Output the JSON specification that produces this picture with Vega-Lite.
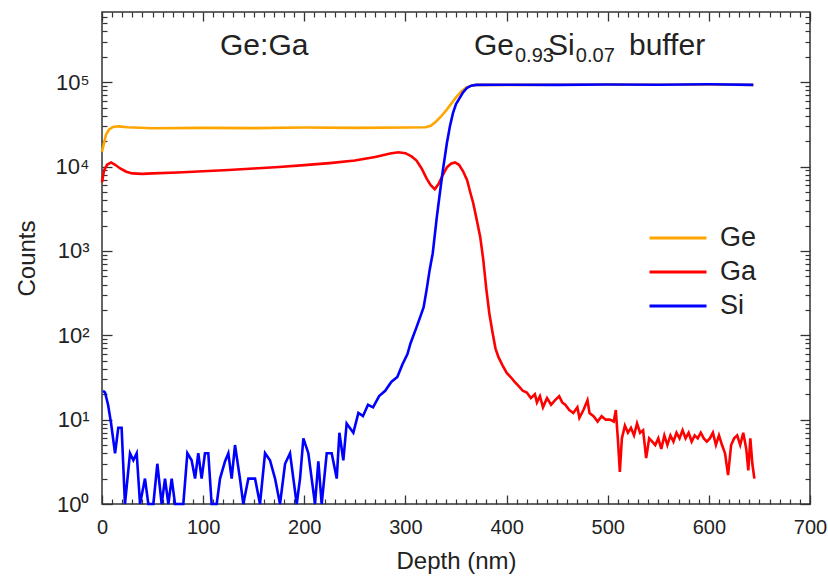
{
  "$schema": "https://vega.github.io/schema/vega-lite/v6.json",
  "width": 708,
  "height": 492,
  "autosize": {"type": "none"},
  "padding": {"left": 102, "top": 12, "right": 18, "bottom": 81},
  "background": "white",
  "config": {
    "font": "Liberation Sans",
    "view": {"stroke": "#333333", "strokeWidth": 1.5},
    "axis": {
      "grid": false,
      "domain": false,
      "labelColor": "#222222",
      "titleColor": "#222222",
      "titleFontWeight": "normal"
    }
  },
  "datasets": {
    "profiles": [
      {"element": "Ge", "depth": 0, "counts": 15000},
      {"element": "Ge", "depth": 2, "counts": 19000},
      {"element": "Ge", "depth": 4, "counts": 24000},
      {"element": "Ge", "depth": 7, "counts": 27500},
      {"element": "Ge", "depth": 11, "counts": 29500},
      {"element": "Ge", "depth": 16, "counts": 30000},
      {"element": "Ge", "depth": 25, "counts": 29200},
      {"element": "Ge", "depth": 50, "counts": 28500},
      {"element": "Ge", "depth": 100, "counts": 28800},
      {"element": "Ge", "depth": 150, "counts": 28600},
      {"element": "Ge", "depth": 200, "counts": 29000},
      {"element": "Ge", "depth": 250, "counts": 28800},
      {"element": "Ge", "depth": 300, "counts": 29000},
      {"element": "Ge", "depth": 320, "counts": 29200},
      {"element": "Ge", "depth": 325, "counts": 30500},
      {"element": "Ge", "depth": 330, "counts": 34000},
      {"element": "Ge", "depth": 335, "counts": 39000},
      {"element": "Ge", "depth": 340, "counts": 46000},
      {"element": "Ge", "depth": 345, "counts": 55000},
      {"element": "Ge", "depth": 350, "counts": 66000},
      {"element": "Ge", "depth": 355, "counts": 77000},
      {"element": "Ge", "depth": 360, "counts": 86000},
      {"element": "Ge", "depth": 365, "counts": 91000},
      {"element": "Ge", "depth": 370, "counts": 93000},
      {"element": "Ge", "depth": 400, "counts": 93000},
      {"element": "Ge", "depth": 450, "counts": 93500},
      {"element": "Ge", "depth": 500, "counts": 94000},
      {"element": "Ge", "depth": 550, "counts": 93500},
      {"element": "Ge", "depth": 600, "counts": 94000},
      {"element": "Ge", "depth": 644, "counts": 93000},

      {"element": "Ga", "depth": 0, "counts": 6500},
      {"element": "Ga", "depth": 2, "counts": 9000},
      {"element": "Ga", "depth": 5, "counts": 10500},
      {"element": "Ga", "depth": 9, "counts": 11200},
      {"element": "Ga", "depth": 13, "counts": 10500},
      {"element": "Ga", "depth": 18, "counts": 9500},
      {"element": "Ga", "depth": 24, "counts": 8700},
      {"element": "Ga", "depth": 30, "counts": 8300},
      {"element": "Ga", "depth": 40, "counts": 8200},
      {"element": "Ga", "depth": 50, "counts": 8300},
      {"element": "Ga", "depth": 75, "counts": 8500},
      {"element": "Ga", "depth": 100, "counts": 8800},
      {"element": "Ga", "depth": 125, "counts": 9100},
      {"element": "Ga", "depth": 150, "counts": 9500},
      {"element": "Ga", "depth": 175, "counts": 9900},
      {"element": "Ga", "depth": 200, "counts": 10400},
      {"element": "Ga", "depth": 225, "counts": 11000},
      {"element": "Ga", "depth": 250, "counts": 11800},
      {"element": "Ga", "depth": 270, "counts": 13000},
      {"element": "Ga", "depth": 285, "counts": 14300},
      {"element": "Ga", "depth": 293, "counts": 14800},
      {"element": "Ga", "depth": 300, "counts": 14400},
      {"element": "Ga", "depth": 306, "counts": 13200},
      {"element": "Ga", "depth": 311, "counts": 11800},
      {"element": "Ga", "depth": 316, "counts": 9500},
      {"element": "Ga", "depth": 321, "counts": 7200},
      {"element": "Ga", "depth": 325, "counts": 6000},
      {"element": "Ga", "depth": 329, "counts": 5400},
      {"element": "Ga", "depth": 333, "counts": 6300},
      {"element": "Ga", "depth": 337, "counts": 8000},
      {"element": "Ga", "depth": 341, "counts": 9800},
      {"element": "Ga", "depth": 345, "counts": 10800},
      {"element": "Ga", "depth": 349, "counts": 11200},
      {"element": "Ga", "depth": 353, "counts": 10500},
      {"element": "Ga", "depth": 357, "counts": 8800},
      {"element": "Ga", "depth": 361, "counts": 6900},
      {"element": "Ga", "depth": 364, "counts": 5000},
      {"element": "Ga", "depth": 367, "counts": 3700},
      {"element": "Ga", "depth": 370, "counts": 2500},
      {"element": "Ga", "depth": 374, "counts": 1450},
      {"element": "Ga", "depth": 377, "counts": 780},
      {"element": "Ga", "depth": 380, "counts": 350},
      {"element": "Ga", "depth": 383, "counts": 180},
      {"element": "Ga", "depth": 386, "counts": 110},
      {"element": "Ga", "depth": 389, "counts": 70},
      {"element": "Ga", "depth": 392, "counts": 55},
      {"element": "Ga", "depth": 396, "counts": 44},
      {"element": "Ga", "depth": 400, "counts": 36},
      {"element": "Ga", "depth": 404, "counts": 32},
      {"element": "Ga", "depth": 408, "counts": 28},
      {"element": "Ga", "depth": 412, "counts": 25},
      {"element": "Ga", "depth": 416, "counts": 22},
      {"element": "Ga", "depth": 420, "counts": 21},
      {"element": "Ga", "depth": 424, "counts": 18},
      {"element": "Ga", "depth": 428, "counts": 20},
      {"element": "Ga", "depth": 430, "counts": 16},
      {"element": "Ga", "depth": 433, "counts": 19},
      {"element": "Ga", "depth": 436, "counts": 14},
      {"element": "Ga", "depth": 440, "counts": 18},
      {"element": "Ga", "depth": 444, "counts": 15},
      {"element": "Ga", "depth": 448, "counts": 17},
      {"element": "Ga", "depth": 452, "counts": 19},
      {"element": "Ga", "depth": 455, "counts": 16},
      {"element": "Ga", "depth": 458, "counts": 15},
      {"element": "Ga", "depth": 462, "counts": 13},
      {"element": "Ga", "depth": 466, "counts": 12},
      {"element": "Ga", "depth": 470, "counts": 14},
      {"element": "Ga", "depth": 472, "counts": 10.5},
      {"element": "Ga", "depth": 476, "counts": 13},
      {"element": "Ga", "depth": 480, "counts": 17},
      {"element": "Ga", "depth": 482, "counts": 12},
      {"element": "Ga", "depth": 486, "counts": 11},
      {"element": "Ga", "depth": 490, "counts": 9.5},
      {"element": "Ga", "depth": 494, "counts": 11},
      {"element": "Ga", "depth": 498, "counts": 10},
      {"element": "Ga", "depth": 502, "counts": 10},
      {"element": "Ga", "depth": 506, "counts": 9.5},
      {"element": "Ga", "depth": 508, "counts": 13},
      {"element": "Ga", "depth": 510, "counts": 6},
      {"element": "Ga", "depth": 512, "counts": 2.4},
      {"element": "Ga", "depth": 514, "counts": 6},
      {"element": "Ga", "depth": 517, "counts": 8.5},
      {"element": "Ga", "depth": 520, "counts": 7},
      {"element": "Ga", "depth": 523, "counts": 8},
      {"element": "Ga", "depth": 526, "counts": 6.5},
      {"element": "Ga", "depth": 529, "counts": 9},
      {"element": "Ga", "depth": 532, "counts": 7},
      {"element": "Ga", "depth": 535, "counts": 7.5},
      {"element": "Ga", "depth": 538, "counts": 3.5},
      {"element": "Ga", "depth": 541, "counts": 6},
      {"element": "Ga", "depth": 544, "counts": 5.5},
      {"element": "Ga", "depth": 547, "counts": 5},
      {"element": "Ga", "depth": 550, "counts": 6},
      {"element": "Ga", "depth": 553, "counts": 4.5},
      {"element": "Ga", "depth": 556, "counts": 6.5},
      {"element": "Ga", "depth": 559, "counts": 5},
      {"element": "Ga", "depth": 562, "counts": 6.5},
      {"element": "Ga", "depth": 565, "counts": 5.5},
      {"element": "Ga", "depth": 568, "counts": 7},
      {"element": "Ga", "depth": 571, "counts": 6},
      {"element": "Ga", "depth": 574, "counts": 7.5},
      {"element": "Ga", "depth": 577, "counts": 6},
      {"element": "Ga", "depth": 580, "counts": 7},
      {"element": "Ga", "depth": 583, "counts": 5.5},
      {"element": "Ga", "depth": 586, "counts": 6.5},
      {"element": "Ga", "depth": 589, "counts": 6},
      {"element": "Ga", "depth": 592, "counts": 7},
      {"element": "Ga", "depth": 595, "counts": 6},
      {"element": "Ga", "depth": 598, "counts": 5.5},
      {"element": "Ga", "depth": 601, "counts": 6},
      {"element": "Ga", "depth": 604, "counts": 7},
      {"element": "Ga", "depth": 607, "counts": 5},
      {"element": "Ga", "depth": 610, "counts": 6.5},
      {"element": "Ga", "depth": 613, "counts": 5},
      {"element": "Ga", "depth": 616, "counts": 4},
      {"element": "Ga", "depth": 619, "counts": 2.2},
      {"element": "Ga", "depth": 622, "counts": 5},
      {"element": "Ga", "depth": 625, "counts": 6},
      {"element": "Ga", "depth": 628, "counts": 6.5},
      {"element": "Ga", "depth": 631, "counts": 5},
      {"element": "Ga", "depth": 634, "counts": 7},
      {"element": "Ga", "depth": 637, "counts": 4.5},
      {"element": "Ga", "depth": 639, "counts": 2.5},
      {"element": "Ga", "depth": 641, "counts": 6},
      {"element": "Ga", "depth": 643, "counts": 3},
      {"element": "Ga", "depth": 645, "counts": 2},

      {"element": "Si", "depth": 1, "counts": 22},
      {"element": "Si", "depth": 3, "counts": 21},
      {"element": "Si", "depth": 6, "counts": 15},
      {"element": "Si", "depth": 9, "counts": 9},
      {"element": "Si", "depth": 12.9, "counts": 4},
      {"element": "Si", "depth": 16.1, "counts": 8},
      {"element": "Si", "depth": 19.4, "counts": 8},
      {"element": "Si", "depth": 22.7, "counts": 1},
      {"element": "Si", "depth": 27.7, "counts": 4},
      {"element": "Si", "depth": 31, "counts": 3.3},
      {"element": "Si", "depth": 34.3, "counts": 4},
      {"element": "Si", "depth": 37.6, "counts": 1},
      {"element": "Si", "depth": 42.5, "counts": 2},
      {"element": "Si", "depth": 45.8, "counts": 1},
      {"element": "Si", "depth": 50.8, "counts": 1},
      {"element": "Si", "depth": 54.7, "counts": 3},
      {"element": "Si", "depth": 59, "counts": 1},
      {"element": "Si", "depth": 62.3, "counts": 2},
      {"element": "Si", "depth": 65.6, "counts": 1},
      {"element": "Si", "depth": 68.9, "counts": 2},
      {"element": "Si", "depth": 72.2, "counts": 1},
      {"element": "Si", "depth": 80.4, "counts": 1},
      {"element": "Si", "depth": 84.4, "counts": 4},
      {"element": "Si", "depth": 88.6, "counts": 3.3},
      {"element": "Si", "depth": 92, "counts": 2},
      {"element": "Si", "depth": 95.2, "counts": 4},
      {"element": "Si", "depth": 98.5, "counts": 2},
      {"element": "Si", "depth": 101.8, "counts": 4},
      {"element": "Si", "depth": 105.1, "counts": 4},
      {"element": "Si", "depth": 108.4, "counts": 1},
      {"element": "Si", "depth": 113.4, "counts": 1},
      {"element": "Si", "depth": 116.7, "counts": 2},
      {"element": "Si", "depth": 121.6, "counts": 3.2},
      {"element": "Si", "depth": 124.9, "counts": 4},
      {"element": "Si", "depth": 128.2, "counts": 2},
      {"element": "Si", "depth": 131.5, "counts": 5},
      {"element": "Si", "depth": 136.4, "counts": 2},
      {"element": "Si", "depth": 139.7, "counts": 1},
      {"element": "Si", "depth": 144.7, "counts": 2},
      {"element": "Si", "depth": 151.3, "counts": 2},
      {"element": "Si", "depth": 156.2, "counts": 1},
      {"element": "Si", "depth": 161.2, "counts": 4},
      {"element": "Si", "depth": 166.1, "counts": 3.3},
      {"element": "Si", "depth": 171.1, "counts": 2},
      {"element": "Si", "depth": 176, "counts": 1},
      {"element": "Si", "depth": 181, "counts": 3},
      {"element": "Si", "depth": 185.9, "counts": 4},
      {"element": "Si", "depth": 189.2, "counts": 2},
      {"element": "Si", "depth": 192.5, "counts": 1},
      {"element": "Si", "depth": 195.8, "counts": 2},
      {"element": "Si", "depth": 199.1, "counts": 6},
      {"element": "Si", "depth": 204, "counts": 4},
      {"element": "Si", "depth": 207.3, "counts": 2},
      {"element": "Si", "depth": 210.6, "counts": 1},
      {"element": "Si", "depth": 213.9, "counts": 3.2},
      {"element": "Si", "depth": 217.2, "counts": 1},
      {"element": "Si", "depth": 222.2, "counts": 4},
      {"element": "Si", "depth": 227.1, "counts": 4},
      {"element": "Si", "depth": 232.1, "counts": 2},
      {"element": "Si", "depth": 234.7, "counts": 7},
      {"element": "Si", "depth": 238.6, "counts": 3.3},
      {"element": "Si", "depth": 241.9, "counts": 9},
      {"element": "Si", "depth": 248.5, "counts": 7},
      {"element": "Si", "depth": 253.5, "counts": 12},
      {"element": "Si", "depth": 258, "counts": 11},
      {"element": "Si", "depth": 263, "counts": 15},
      {"element": "Si", "depth": 268, "counts": 14},
      {"element": "Si", "depth": 274, "counts": 19},
      {"element": "Si", "depth": 280, "counts": 22},
      {"element": "Si", "depth": 286, "counts": 28},
      {"element": "Si", "depth": 292, "counts": 32},
      {"element": "Si", "depth": 297, "counts": 45},
      {"element": "Si", "depth": 302, "counts": 60},
      {"element": "Si", "depth": 305, "counts": 80},
      {"element": "Si", "depth": 308, "counts": 100},
      {"element": "Si", "depth": 311, "counts": 125},
      {"element": "Si", "depth": 315, "counts": 170},
      {"element": "Si", "depth": 318, "counts": 215},
      {"element": "Si", "depth": 321, "counts": 350},
      {"element": "Si", "depth": 324, "counts": 600},
      {"element": "Si", "depth": 327, "counts": 940},
      {"element": "Si", "depth": 331, "counts": 2500},
      {"element": "Si", "depth": 334, "counts": 4800},
      {"element": "Si", "depth": 337, "counts": 9000},
      {"element": "Si", "depth": 341, "counts": 19000},
      {"element": "Si", "depth": 344, "counts": 30000},
      {"element": "Si", "depth": 347, "counts": 43000},
      {"element": "Si", "depth": 350, "counts": 55000},
      {"element": "Si", "depth": 354, "counts": 66000},
      {"element": "Si", "depth": 357, "counts": 76000},
      {"element": "Si", "depth": 361, "counts": 86000},
      {"element": "Si", "depth": 365, "counts": 91000},
      {"element": "Si", "depth": 370, "counts": 93000},
      {"element": "Si", "depth": 400, "counts": 93500},
      {"element": "Si", "depth": 450, "counts": 93000},
      {"element": "Si", "depth": 500, "counts": 94000},
      {"element": "Si", "depth": 550, "counts": 93500},
      {"element": "Si", "depth": 600, "counts": 94500},
      {"element": "Si", "depth": 644, "counts": 93000}
    ],
    "labels": [
      {"depth": 116.7, "counts": 210000, "text": "Ge:Ga"},
      {"depth": 367.8, "counts": 210000, "text": "Ge"},
      {"depth": 441, "counts": 210000, "text": "Si"},
      {"depth": 521, "counts": 210000, "text": "buffer"}
    ],
    "subscripts": [
      {"depth": 408.3, "counts": 210000, "text": "0.93"},
      {"depth": 468.5, "counts": 210000, "text": "0.07"}
    ]
  },
  "layer": [
    {
      "data": {"name": "profiles"},
      "mark": {"type": "line", "strokeWidth": 2.6},
      "encoding": {
        "x": {
          "field": "depth",
          "type": "quantitative",
          "scale": {"domain": [0, 700], "nice": false},
          "axis": {
            "orient": "bottom",
            "values": [0, 100, 200, 300, 400, 500, 600, 700],
            "ticks": true,
            "tickColor": "#333333",
            "tickWidth": 1.3,
            "offset": -9,
            "tickSize": 9,
            "labelPadding": 13,
            "labelFontSize": 20,
            "labelFlush": false,
            "title": "Depth (nm)",
            "titleFontSize": 24,
            "titlePadding": 12
          }
        },
        "y": {
          "field": "counts",
          "type": "quantitative",
          "scale": {"type": "log", "domain": [1, 680000], "nice": false},
          "axis": {
            "orient": "left",
            "values": [1, 10, 100, 1000, 10000, 100000],
            "labelExpr": "'10' + ['⁰','¹','²','³','⁴','⁵','⁶'][round(log(datum.value)/LN10)]",
            "ticks": true,
            "tickColor": "#333333",
            "tickWidth": 1.3,
            "offset": -10,
            "tickSize": 10,
            "labelPadding": 13,
            "labelFontSize": 22,
            "labelFlush": false,
            "labelOverlap": false,
            "title": "Counts",
            "titleFontSize": 24,
            "titlePadding": 16
          }
        },
        "color": {
          "field": "element",
          "type": "nominal",
          "sort": ["Ge", "Ga", "Si"],
          "scale": {"domain": ["Ge", "Ga", "Si"], "range": ["#FFA500", "#FF0000", "#0000FF"]},
          "legend": {
            "orient": "none",
            "legendX": 546,
            "legendY": 209,
            "title": null,
            "padding": 0,
            "symbolType": "stroke",
            "symbolSize": 3249,
            "symbolStrokeWidth": 3,
            "labelFontSize": 27,
            "labelOffset": 12,
            "labelColor": "#222222",
            "clipHeight": 34,
            "rowPadding": 0
          }
        }
      }
    },
    {
      "data": {"name": "labels"},
      "mark": {"type": "text", "fontSize": 30, "align": "left", "baseline": "alphabetic", "color": "#222222"},
      "encoding": {
        "x": {
          "field": "depth",
          "type": "quantitative",
          "axis": {
            "orient": "top",
            "values": [0, 100, 200, 300, 400, 500, 600, 700],
            "labels": false,
            "ticks": true,
            "tickColor": "#333333",
            "tickWidth": 1.3,
            "offset": -9,
            "tickSize": 9,
            "title": null
          }
        },
        "y": {
          "field": "counts",
          "type": "quantitative",
          "axis": {
            "orient": "right",
            "values": [1, 10, 100, 1000, 10000, 100000],
            "labels": false,
            "ticks": true,
            "tickColor": "#333333",
            "tickWidth": 1.3,
            "offset": -10,
            "tickSize": 10,
            "title": null
          }
        },
        "text": {"field": "text"}
      }
    },
    {
      "data": {"name": "subscripts"},
      "mark": {"type": "text", "fontSize": 20, "align": "left", "baseline": "alphabetic", "dy": 7, "color": "#222222"},
      "encoding": {
        "x": {
          "field": "depth",
          "type": "quantitative",
          "axis": {
            "orient": "bottom",
            "values": [10,20,30,40,50,60,70,80,90,110,120,130,140,150,160,170,180,190,210,220,230,240,250,260,270,280,290,310,320,330,340,350,360,370,380,390,410,420,430,440,450,460,470,480,490,510,520,530,540,550,560,570,580,590,610,620,630,640,650,660,670,680,690],
            "labels": false,
            "ticks": true,
            "tickColor": "#333333",
            "tickWidth": 1.2,
            "offset": -5,
            "tickSize": 5,
            "title": null
          }
        },
        "y": {
          "field": "counts",
          "type": "quantitative",
          "axis": {
            "orient": "left",
            "values": [2,3,4,5,6,7,8,9,20,30,40,50,60,70,80,90,200,300,400,500,600,700,800,900,2000,3000,4000,5000,6000,7000,8000,9000,20000,30000,40000,50000,60000,70000,80000,90000,200000,300000,400000,500000,600000],
            "labels": false,
            "ticks": true,
            "tickColor": "#333333",
            "tickWidth": 1.2,
            "offset": -5,
            "tickSize": 5,
            "title": null
          }
        },
        "text": {"field": "text"}
      }
    },
    {
      "data": {"name": "profiles"},
      "mark": {"type": "line", "opacity": 0},
      "encoding": {
        "detail": {"field": "element"},
        "x": {
          "field": "depth",
          "type": "quantitative",
          "axis": {
            "orient": "top",
            "values": [10,20,30,40,50,60,70,80,90,110,120,130,140,150,160,170,180,190,210,220,230,240,250,260,270,280,290,310,320,330,340,350,360,370,380,390,410,420,430,440,450,460,470,480,490,510,520,530,540,550,560,570,580,590,610,620,630,640,650,660,670,680,690],
            "labels": false,
            "ticks": true,
            "tickColor": "#333333",
            "tickWidth": 1.2,
            "offset": -5,
            "tickSize": 5,
            "title": null
          }
        },
        "y": {
          "field": "counts",
          "type": "quantitative",
          "axis": {
            "orient": "right",
            "values": [2,3,4,5,6,7,8,9,20,30,40,50,60,70,80,90,200,300,400,500,600,700,800,900,2000,3000,4000,5000,6000,7000,8000,9000,20000,30000,40000,50000,60000,70000,80000,90000,200000,300000,400000,500000,600000],
            "labels": false,
            "ticks": true,
            "tickColor": "#333333",
            "tickWidth": 1.2,
            "offset": -5,
            "tickSize": 5,
            "title": null
          }
        }
      }
    }
  ],
  "resolve": {"axis": {"x": "independent", "y": "independent"}}
}
